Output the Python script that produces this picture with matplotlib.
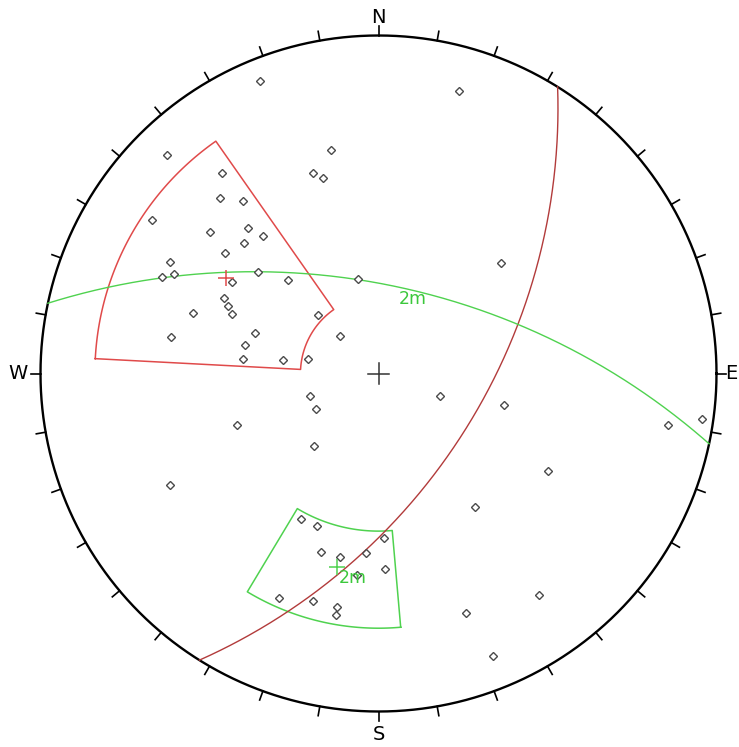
import numpy as np
import matplotlib
matplotlib.use("Agg")
import matplotlib.pyplot as plt

# poles to joints, lower hemisphere (trend, plunge in degrees)
pole_trend = [338, 16, 316, 348, 342, 344, 322, 318, 322, 304,
              310, 318, 320, 314, 308, 298, 296, 294, 310, 302,
              316, 348, 48, 296, 294, 292, 288, 314, 288, 314,
              280, 282, 276, 278, 282, 252, 240, 250, 222, 110,
              104, 100, 98, 120, 242, 144, 144, 160, 158, 208,
              202, 198, 192, 184, 178, 178, 186, 204, 196, 190, 190]
pole_plunge = [4, 8, 6, 22, 26, 28, 16, 20, 24, 12,
               24, 30, 34, 32, 30, 20, 22, 20, 40, 36,
               48, 58, 38, 36, 38, 40, 30, 62, 48, 72,
               26, 46, 46, 58, 66, 66, 66, 42, 58, 68,
               48, 8, 2, 30, 20, 38, 12, 16, 6, 38,
               38, 32, 32, 34, 38, 30, 28, 18, 20, 20, 18]

# set windows: trend range, plunge range
set1_trend = [273, 325]
set1_plunge = [10, 64]
set2_trend = [175, 211]
set2_plunge = [16, 40]

# mean poles of the sets
set1_mean = [302, 34]
set2_mean = [192, 29.4]
set2_label = "2m"

compass = ["N", "E", "S", "W"]

RED_WIN = "#e04a4a"
RED_GC = "#b23b3b"
GREEN = "#4fd24f"


def proj(trend, plunge):
    # equal angle (Wulff) projection, north up
    t = np.radians(np.asarray(trend, dtype=float))
    r = np.tan(np.radians(90 - np.asarray(plunge, dtype=float)) / 2)
    return r * np.sin(t), r * np.cos(t)


def vec(trend, plunge):
    t, p = np.radians(trend), np.radians(plunge)
    return np.array([np.cos(p) * np.sin(t), np.cos(p) * np.cos(t), np.sin(p)])


def great_circle(trend, plunge, n=361):
    # plane normal to the pole; vectors are (east, north, down)
    pole = vec(trend, plunge)
    strike = vec(trend + 90, 0)
    dip = np.cross(pole, strike)
    if dip[2] < 0:
        dip = -dip
    a = np.radians(np.linspace(0, 180, n))
    v = np.outer(np.cos(a), strike) + np.outer(np.sin(a), dip)
    tr = np.degrees(np.arctan2(v[:, 0], v[:, 1]))
    pl = np.degrees(np.arcsin(np.clip(v[:, 2], -1, 1)))
    return proj(tr, pl)


def window(trends, plunges, n=60):
    t1, t2 = trends
    p1, p2 = plunges
    ts = np.linspace(t1, t2, n)
    tr = np.concatenate([ts, [t2], ts[::-1], [t1]])
    pl = np.concatenate([np.full(n, p1), [p2], np.full(n, p2), [p1]])
    return proj(tr, pl)


fig = plt.figure(figsize=(7.39, 7.47), dpi=100)
ax = fig.add_axes([0, 0, 1, 1])
R = 338.0
xmax = (739 - 378.5) / R
ax.set_xlim(-378.5 / R, xmax)
ax.set_ylim(-(747 - 373.5) / R, 373.5 / R)
ax.set_aspect("equal")
ax.axis("off")

# primitive circle and 10 degree ticks
th = np.linspace(0, 2 * np.pi, 721)
ax.plot(np.cos(th), np.sin(th), color="black", lw=1.7)
for az in range(0, 360, 10):
    a = np.radians(az)
    ax.plot([np.sin(a), 1.028 * np.sin(a)], [np.cos(a), 1.028 * np.cos(a)],
            color="black", lw=1.2)

# compass letters; E is pushed against the right edge
label_pos = {"N": (0, 1.053, "center"), "E": (xmax - 0.004, 0, "right"),
             "S": (0, -1.068, "center"), "W": (-1.067, 0, "center")}
for lab in compass:
    x, y, ha = label_pos[lab]
    ax.text(x, y, lab, fontsize=14, ha=ha, va="center", color="black")

# centre cross
ax.plot([-0.032, 0.032], [0, 0], color="#333333", lw=1.1)
ax.plot([0, 0], [-0.032, 0.032], color="#333333", lw=1.1)

# set windows
wx, wy = window(set1_trend, set1_plunge)
ax.plot(wx, wy, color=RED_WIN, lw=1.1)
wx, wy = window(set2_trend, set2_plunge)
ax.plot(wx, wy, color=GREEN, lw=1.1)

# mean planes
gx, gy = great_circle(*set1_mean)
ax.plot(gx, gy, color=RED_GC, lw=1.0)
gx, gy = great_circle(*set2_mean)
ax.plot(gx, gy, color=GREEN, lw=1.0)

# poles
px, py = proj(pole_trend, pole_plunge)
ax.plot(px, py, "D", ms=3.6, mfc="white", mec="#4a4a4a", mew=1.0, ls="none")

# mean poles
mx, my = proj(*set1_mean)
ax.plot(mx, my, "+", ms=11, mew=1.1, color=RED_WIN)
mx, my = proj(*set2_mean)
ax.plot(mx, my, "+", ms=11, mew=1.1, color=GREEN)
ax.annotate(set2_label, (mx, my), xytext=(1, -2), textcoords="offset points",
            ha="left", va="top", fontsize=12.5, color="#3cc83c")

# label on the mean plane at its dip direction
dd_x, dd_y = proj(set2_mean[0] + 180, 90 - set2_mean[1])
ax.annotate(set2_label, (dd_x, dd_y), xytext=(1, -2), textcoords="offset points",
            ha="left", va="top", fontsize=12.5, color="#3cc83c")

fig.savefig("out.png", dpi=100)
